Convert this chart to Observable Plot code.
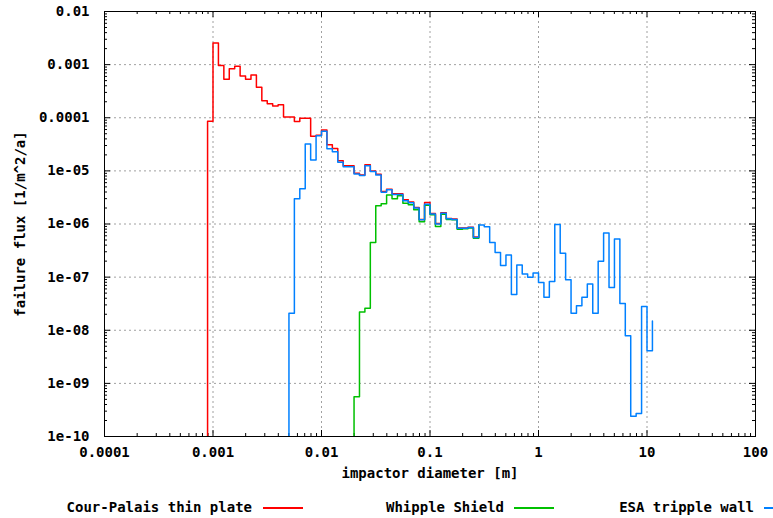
<!DOCTYPE html>
<html>
<head>
<meta charset="utf-8">
<script src="https://cdn.jsdelivr.net/npm/d3@7"></script>
<script src="https://cdn.jsdelivr.net/npm/@observablehq/plot@0.6"></script>
<style>
  body { margin: 0; background: #fff; }
  #wrap { position: relative; width: 773px; height: 518px; background: #fff; overflow: hidden; }
  #legend { position: absolute; left: 0; top: 490px; width: 773px; height: 28px;
            font-family: "DejaVu Sans Mono", monospace; font-weight: bold; font-size: 14px; color: #000; }
  .lg-text { position: absolute; top: 8px; text-align: right; white-space: nowrap; line-height: 18px; }
  .lg-line { position: absolute; top: 17px; height: 1.5px; }
</style>
</head>
<body>
<div id="wrap"></div>
<script>
// ---- axis ticks ----
const xTickValues = [1e-4, 1e-3, 1e-2, 1e-1, 1, 10, 100];
const xTickLabels = ["0.0001", "0.001", "0.01", "0.1", "1", "10", "100"];
const yTickValues = [1e-2, 1e-3, 1e-4, 1e-5, 1e-6, 1e-7, 1e-8, 1e-9, 1e-10];
const yTickLabels = ["0.01", "0.001", "0.0001", "1e-05", "1e-06", "1e-07", "1e-08", "1e-09", "1e-10"];
const xLabel = "impactor diameter [m]";
const yLabel = "failure flux [1/m^2/a]";

// ---- series (log-spaced bins, 20 per decade; first edge as log10) ----
const binWidthDecades = 0.05;
const seriesNames = ["Cour-Palais thin plate", "Whipple Shield", "ESA tripple wall"];
const seriesColors = ["#ff0000", "#00c000", "#0080ff"];

const redFirstEdge = -3.10;
const redFlux = [
  1e-12, 8.6e-5, 2.55e-3, 9.6e-4, 5.3e-4, 8.4e-4, 9.3e-4, 6.1e-4, 5.3e-4, 6.4e-4,
  3.75e-4, 2.1e-4, 1.83e-4, 1.66e-4, 1.75e-4, 1.03e-4, 1.03e-4, 8.5e-5, 9.8e-5, 9.8e-5,
  4.5e-5, 4.7e-5, 5.9e-5, 3.1e-5, 2.65e-5, 1.55e-5, 1.25e-5, 1.25e-5, 9.0e-6, 8.4e-6,
  1.3e-5, 1.0e-5, 8.6e-6, 4.1e-6, 4.5e-6, 3.7e-6, 3.7e-6, 2.85e-6, 2.6e-6, 2.05e-6,
  1.22e-6, 2.55e-6, 1.58e-6, 1.02e-6, 1.62e-6, 1.27e-6, 1.24e-6, 8.4e-7, 8.4e-7, 8.7e-7,
  5.7e-7, 9.6e-7
];

const greenFirstEdge = -1.75;
const greenFlux = [
  1e-12, 5.6e-10, 2.2e-8, 2.6e-8, 4.5e-7, 2.2e-6, 2.4e-6, 3.5e-6, 3.0e-6, 3.4e-6,
  2.45e-6, 2.3e-6, 1.85e-6, 1.1e-6, 2.25e-6, 1.5e-6, 9.0e-7, 1.52e-6, 1.22e-6, 1.2e-6,
  8.0e-7, 8.1e-7, 8.4e-7, 5.4e-7, 9.6e-7
];

const blueFirstEdge = -2.35;
const blueFlux = [
  1e-12, 2.1e-8, 3.0e-6, 4.6e-6, 3.2e-5, 1.6e-5, 4.6e-5, 5.6e-5, 2.6e-5, 2.3e-5,
  1.45e-5, 1.2e-5, 1.2e-5, 8.7e-6, 8.2e-6, 1.25e-5, 9.7e-6, 8.4e-6, 3.95e-6, 4.4e-6,
  3.6e-6, 3.6e-6, 2.75e-6, 2.5e-6, 2.0e-6, 1.2e-6, 2.35e-6, 1.55e-6, 1.0e-6, 1.6e-6,
  1.25e-6, 1.22e-6, 8.3e-7, 8.3e-7, 8.6e-7, 5.6e-7, 9.6e-7, 8.9e-7, 4.5e-7, 2.9e-7,
  1.65e-7, 2.6e-7, 4.7e-8, 1.7e-7, 1.15e-7, 9.9e-8, 1.2e-7, 7.9e-8, 4.2e-8, 8.3e-8,
  9.8e-7, 2.8e-7, 8.9e-8, 2.1e-8, 2.9e-8, 4.2e-8, 7.4e-8, 2.1e-8, 2.0e-7, 6.8e-7,
  6.4e-8, 5.2e-7, 3.2e-8, 7.9e-9, 2.4e-10, 2.7e-10, 2.8e-8, 4.1e-9, 1.5e-8
];

// ---- build tables ----
function toBins(firstEdge, values) {
  return values.map((v, i) => ({d: Math.pow(10, firstEdge + i * binWidthDecades), f: v}));
}
const redData = toBins(redFirstEdge, redFlux);
const greenData = toBins(greenFirstEdge, greenFlux);
const blueData = toBins(blueFirstEdge, blueFlux);

const xMinor = [];
for (let e = -4; e < 2; e++) for (let m = 2; m <= 9; m++) xMinor.push(m * Math.pow(10, e));
const yMinor = [];
for (let e = -10; e < -2; e++) for (let m = 2; m <= 9; m++) yMinor.push(m * Math.pow(10, e));

const W = 773, H = 490;
const mL = 104, mR = 18, mT = 11, mB = 54;
const innerH = H - mT - mB, innerW = W - mL - mR;
const major = 6, minor = 3;
const gridStyle = {stroke: "#a0a0a0", strokeOpacity: 1, strokeWidth: 1, strokeDasharray: "2,3"};

const chart = Plot.plot({
  width: W, height: H,
  marginLeft: mL, marginRight: mR, marginTop: mT, marginBottom: mB,
  x: {type: "log", domain: [1e-4, 100], axis: null},
  y: {type: "log", domain: [1e-10, 1e-2], axis: null},
  style: {fontFamily: "'DejaVu Sans Mono', monospace", fontWeight: "bold", fontSize: "14px", background: "#fff", color: "#000"},
  marks: [
    Plot.ruleX(xTickValues.slice(1, -1), gridStyle),
    Plot.ruleY(yTickValues.slice(1, -1), gridStyle),
    // major / minor ticks, inward on all sides
    Plot.tickX(xTickValues, {stroke: "#000", insetTop: innerH - major}),
    Plot.tickX(xTickValues, {stroke: "#000", insetBottom: innerH - major}),
    Plot.tickX(xMinor, {stroke: "#000", insetTop: innerH - minor}),
    Plot.tickX(xMinor, {stroke: "#000", insetBottom: innerH - minor}),
    Plot.tickY(yTickValues, {stroke: "#000", insetRight: innerW - major}),
    Plot.tickY(yTickValues, {stroke: "#000", insetLeft: innerW - major}),
    Plot.tickY(yMinor, {stroke: "#000", insetRight: innerW - minor}),
    Plot.tickY(yMinor, {stroke: "#000", insetLeft: innerW - minor}),
    Plot.line(redData, {x: "d", y: "f", curve: "step-after", stroke: seriesColors[0], strokeWidth: 1.5, clip: true}),
    Plot.line(greenData, {x: "d", y: "f", curve: "step-after", stroke: seriesColors[1], strokeWidth: 1.5, clip: true}),
    Plot.line(blueData, {x: "d", y: "f", curve: "step-after", stroke: seriesColors[2], strokeWidth: 1.5, clip: true}),
    Plot.frame({stroke: "#000", strokeWidth: 1}),
    Plot.text(xTickValues, {x: d => d, text: (d, i) => xTickLabels[i], frameAnchor: "bottom", lineAnchor: "middle", textAnchor: "middle", dy: 16, fill: "#000"}),
    Plot.text(yTickValues, {y: d => d, text: (d, i) => yTickLabels[i], frameAnchor: "left", lineAnchor: "middle", textAnchor: "end", dx: -15, fill: "#000"}),
    Plot.text([xLabel], {text: d => d, frameAnchor: "bottom", lineAnchor: "middle", textAnchor: "middle", dy: 37, fill: "#000"}),
    Plot.text([yLabel], {text: d => d, frameAnchor: "middle", lineAnchor: "middle", textAnchor: "middle", dx: -(innerW / 2 + 84), rotate: -90, fill: "#000"})
  ]
});

const wrap = document.getElementById("wrap");
wrap.appendChild(chart);

// legend below the plot
const legend = document.createElement("div");
legend.id = "legend";
const textRight = [252, 504, 754];
const lineStart = [263, 514, 764];
seriesNames.forEach((name, i) => {
  const t = document.createElement("div");
  t.className = "lg-text";
  t.textContent = name;
  t.style.right = (W - textRight[i]) + "px";
  legend.appendChild(t);
  const l = document.createElement("div");
  l.className = "lg-line";
  l.style.left = lineStart[i] + "px";
  l.style.width = "40px";
  l.style.background = seriesColors[i];
  legend.appendChild(l);
});
wrap.appendChild(legend);
</script>
</body>
</html>
